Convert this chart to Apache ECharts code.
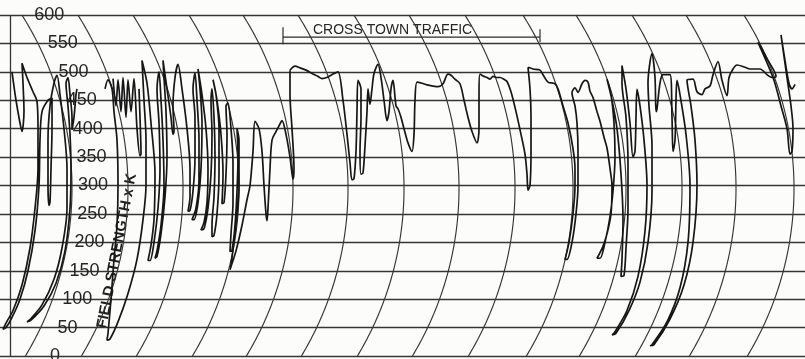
<!DOCTYPE html>
<html>
<head>
<meta charset="utf-8">
<script src="https://cdn.jsdelivr.net/npm/echarts@6/dist/echarts.min.js"></script>
<style>
html,body{margin:0;padding:0;background:#fcfcfb;}
#c{width:805px;height:359px;}
</style>
</head>
<body>
<div id="c"></div>
<script>
// ---- data (x = position along the strip, v = field strength x K) ----
const tickValues = [0, 50, 100, 150, 200, 250, 300, 350, 400, 450, 500, 550, 600];
// positions (at arc apex) of the curved time lines of the recorder paper
const timeLines = [72, 128, 183, 239, 293, 348, 404, 459, 515, 573, 626, 682, 736, 794];
const titleText = 'CROSS TOWN TRAFFIC';
const axisTitle = 'FIELD STRENGTH x K';
// annotated span: [start, end, level]
const trafficSpan = [[283, 540, 561]];

const stripA = [
  [12,500],[16,450],[20,410],[22,395],[24,430],[23,480],[22,515],[27,490],[33,465],[37,448],
  [38,400],[38,330],[35,260],[30,190],[22,125],[13,80],[6,58],[3,47],[6,50],[12,68],[20,100],[28,150],[35,220],[39,300],[40,380],[42,430],[48,450],[52,454],
  [52,400],[51,330],[50,270],[49,265],[48,300],[48,380],[50,440],[54,480],[57,494],
  [60,460],[64,400],[67,330],[67,260],[62,190],[54,135],[42,90],[30,64],[27,60],[31,63],[44,88],[56,128],[65,185],[70,260],[71,330],[70,390],[68,440],[66,480],[68,490],
  [70,460],[72,420],[72,398],[74,420],[76,460],[77,470]
];
const stripB0 = [
  [113,488],[116,440],[118,486],[121,430],[123,490],[126,420],[128,486],[131,430],[134,488],[137,400],[140,352],[141,356],[140,420],[139,470]
];
const stripB = [
  [105,470],[108,486],[112,470],[114,430],[117,380],[118,300],[117,230],[114,170],[111,100],[108,40],[107,28],[110,30],[118,60],[128,110],[137,170],[143,240],[146,300],[146,380],[144,450],[142,520],
  [147,480],[151,410],[155,320],[154,240],[151,195],[148,168],[150,168],[154,200],[158,260],[160,330],[159,410],[157,470],[159,500],
  [161,450],[163,380],[164,300],[161,230],[157,185],[155,172],[157,175],[161,215],[165,280],[167,350],[166,430],[164,490],[163,520],
  [167,470],[171,420],[173,390],[174,395],[173,440],[175,490],[178,513],
  [182,470],[187,400],[190,330],[190,280],[188,255],[190,256],[193,290],[195,350],[195,420],[193,470],[195,498],
  [197,450],[199,380],[199,310],[196,260],[192,240],[194,240],[198,270],[201,330],[202,410],[200,470],[198,505],
  [202,460],[206,400],[208,330],[207,270],[204,235],[201,222],[204,224],[208,260],[211,320],[212,390],[211,450],[212,470],
  [214,420],[215,350],[214,280],[212,230],[212,210],[214,212],[217,250],[219,320],[219,400],[216,460],[213,486],
  [217,450],[221,390],[223,320],[222,268],[224,270],[226,320],[227,390],[226,440],[228,445],
  [231,400],[233,340],[233,270],[231,215],[230,184],[232,186],[235,230],[237,290],[238,350],[237,400],
  [239,380],[239,300],[236,230],[231,160],[230,152],
  [236,185],[242,230],[247,275],[250,300],[253,360],[255,413],[259,400],[262,360],[264,300],[266,250],[267,238],[268,260],[270,330],[272,380],[276,395],[279,405],[282,414],[286,390],[290,350],[293,311],[294,330],[292,400],[290,460],[290,503]
];
const stripC = [
  [290,503],[295,510],[300,507],[306,503],[313,496],[318,492],[322,488],[328,491],[333,496],[338,500],
  [343,450],[347,390],[350,340],[352,310],[354,312],[356,360],[357,430],[358,485],[361,470],[361,420],[360,360],[361,320],[363,322],[365,370],[367,430],[368,470],[370,443],[372,470],[374,497],[378,513],[381,490],[384,450],[387,414],[389,430],[391,470],[393,485],[396,440],[398,435],[401,420],[404,400],[408,375],[412,360],[414,390],[415,450],[417,482],
  [422,480],[427,477],[433,475],[438,474],[443,479],[448,496],[451,494],[455,487],[460,479],[464,450],[468,420],[472,395],[477,375],[479,400],[479,450],[480,496],[484,492],[487,490],[490,487],[493,492],[497,490],[500,490],[504,487],[507,483],[511,465],[516,430],[521,390],[525,355],[527,320],[528,292],[530,300],[531,360],[531,420],[530,470],[528,508]
];
const stripD = [
  [528,508],[533,505],[540,503],[543,495],[548,482],[555,479],[558,470],[563,440],[568,410],[573,365],[575,330],[575,300],[573,250],[569,200],[565,170],[567,170],[572,200],[576,250],[578,300],[578,360],[577,410],[575,440],[572,463],[575,472],[578,464],[582,479],[585,485],[588,482],[590,466],[593,455],[597,430],[600,413],[604,385],[607,366],[610,330],[612,300],[611,250],[607,215],[603,193],[597,172],[600,172],[605,200],[610,245],[613,290],[615,350],[614,410],[611,460],[607,487],
  [612,450],[617,400],[621,320],[623,240],[622,170],[621,140],[624,142],[626,190],[628,260],[628,340],[626,420],[622,480],[622,511],
  [626,470],[630,410],[633,350],[635,360],[636,420],[637,469],
  [640,440],[644,380],[647,300],[645,220],[638,140],[627,80],[614,40],[612,37],[616,40],[629,80],[640,130],[648,200],[652,290],[652,370],[649,440],[648,480],[652,532],
  [655,490],[656,430],[657,435],[660,480],[663,495],[670,495],[672,420],[673,360],[675,380],[676,450],[677,485],
  [680,460],[686,390],[690,300],[688,200],[680,120],[667,60],[652,20],[650,18],[654,20],[670,65],[684,125],[693,200],[697,300],[695,380],[691,440],[687,485],
  [693,487],[697,465],[702,460],[705,470],[710,475],[713,495],[718,518],[722,485],[727,458],[729,490],[733,505],[737,512],[745,508],[750,505],[760,505],[767,495],[772,490],[776,492],[768,520],[758,552],[766,520],[774,485],[781,440],[787,400],[790,355],[792,360],[793,400],[791,440],[787,490],[781,565],[785,520],[789,480],[792,470],[795,478]
];

// ---- drawing ----
const PAPER_R = 325, PAPER_CV = 295;            // curvature of the recorder's time lines
const LABEL_R = 376, LABEL_CV = 290, LABEL_POS = 93; // curvature of the hand-lettered scale
const INK = '#161616', GRID = '#353535';

function arcShift(api, y, R, cv) {
  const cy = api.coord([0, cv])[1];
  const d = y - cy;
  return R - Math.sqrt(Math.max(R * R - d * d, 0));
}

function traceSeries(name, data, extra) {
  return Object.assign({
    type: 'line', name: name, data: data, showSymbol: false, symbol: 'none', smooth: 0.3,
    lineStyle: { color: INK, width: 1.7 }, silent: true, z: 5, animation: false
  }, extra || {});
}

const chart = echarts.init(document.getElementById('c'));
chart.setOption({
  backgroundColor: '#fcfcfb',
  animation: false,
  grid: { left: 0, right: 0, top: 15, bottom: 3 },
  xAxis: { type: 'value', min: 0, max: 805, show: false },
  yAxis: {
    type: 'value', min: 0, max: 600, interval: 50,
    axisLine: { show: false }, axisTick: { show: false }, axisLabel: { show: false },
    splitLine: { lineStyle: { color: GRID, width: 1.3 } }
  },
  graphic: [
    { type: 'text', x: 313, y: 30, silent: true,
      style: { text: titleText, font: '14px "Liberation Sans", Arial, sans-serif', fill: '#262626',
               textAlign: 'left', textVerticalAlign: 'middle', align: 'left', verticalAlign: 'middle' } },
    { type: 'text', x: 117, y: 251, rotation: 79 * Math.PI / 180, silent: true,
      style: { text: axisTitle, font: 'bold 15px "Liberation Sans", Arial, sans-serif', fill: '#1e1e1e',
               textAlign: 'center', textVerticalAlign: 'middle', align: 'center', verticalAlign: 'middle' } }
  ],
  series: [
    { type: 'custom', name: 'time lines', coordinateSystem: 'cartesian2d', silent: true, z: 2,
      data: timeLines.map(t => [t, 0]),
      renderItem: function (params, api) {
        const T = api.value(0), pts = [];
        for (let v = 0; v <= 600; v += 5) {
          const c = api.coord([T, v]);
          pts.push([c[0] - arcShift(api, c[1], PAPER_R, PAPER_CV), c[1]]);
        }
        return { type: 'polyline', shape: { points: pts }, style: { stroke: GRID, lineWidth: 1.15, fill: 'none' } };
      } },
    { type: 'custom', name: 'scale', coordinateSystem: 'cartesian2d', silent: true, z: 4,
      data: tickValues.map(v => [LABEL_POS, v]),
      renderItem: function (params, api) {
        const c = api.coord([api.value(0), api.value(1)]);
        const x = c[0] - arcShift(api, c[1], LABEL_R, LABEL_CV);
        return { type: 'text', x: x, y: c[1],
          style: { text: String(api.value(1)), font: '18px "Liberation Sans", Arial, sans-serif', fill: '#262626',
                   textAlign: 'center', textVerticalAlign: 'middle', align: 'center', verticalAlign: 'middle' } };
      } },
    { type: 'custom', name: 'cross town traffic', coordinateSystem: 'cartesian2d', silent: true, z: 4,
      data: trafficSpan,
      renderItem: function (params, api) {
        const p1 = api.coord([api.value(0), api.value(2)]);
        const p2 = api.coord([api.value(1), api.value(2)]);
        const st = { stroke: '#2a2a2a', lineWidth: 1.2 };
        return { type: 'group', children: [
          { type: 'line', shape: { x1: p1[0], y1: p1[1], x2: p2[0], y2: p2[1] }, style: st },
          { type: 'line', shape: { x1: p1[0], y1: p1[1] - 10, x2: p1[0], y2: p1[1] + 7 }, style: st },
          { type: 'line', shape: { x1: p2[0], y1: p2[1] - 8, x2: p2[0], y2: p2[1] + 5 }, style: st }
        ] };
      } },
    traceSeries('A', stripA, {
      markLine: { silent: true, symbol: 'none', label: { show: false },
                  lineStyle: { color: GRID, width: 1.3, type: 'solid' }, data: [{ xAxis: 10 }] }
    }),
    traceSeries('B0', stripB0),
    traceSeries('B', stripB),
    traceSeries('C', stripC),
    traceSeries('D', stripD)
  ]
});
</script>
</body>
</html>
